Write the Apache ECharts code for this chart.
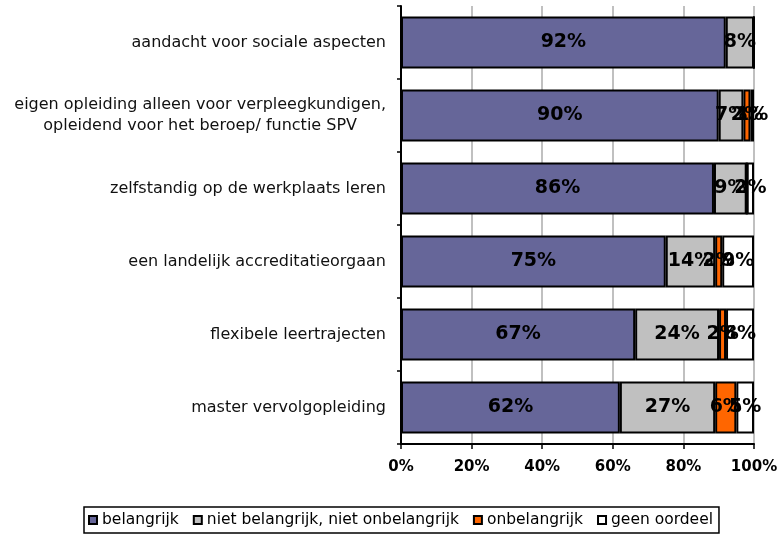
<!DOCTYPE html>
<html>
<head>
<meta charset="utf-8">
<script src="https://cdn.jsdelivr.net/npm/echarts@6/dist/echarts.min.js"></script>
<style>
  html, body { margin: 0; padding: 0; background: #fff; }
  #chart { width: 782px; height: 538px; }
</style>
</head>
<body>
<div id="chart"></div>
<script>
// categories, top to bottom
const categories = [
  "aandacht voor sociale aspecten",
  "eigen opleiding alleen voor verpleegkundigen,\nopleidend voor het beroep/ functie SPV",
  "zelfstandig op de werkplaats leren",
  "een landelijk accreditatieorgaan",
  "flexibele leertrajecten",
  "master vervolgopleiding",
];
const seriesNames = ["belangrijk", "niet belangrijk, niet onbelangrijk", "onbelangrijk", "geen oordeel"];
// percentages as printed in the chart
const belangrijk = [92, 90, 86, 75, 67, 62];
const neutraal = [8, 7, 9, 14, 24, 27];
const onbelangrijk = [0, 2, 0, 2, 2, 6];
const geenOordeel = [0, 1, 2, 9, 8, 5];
const xTicks = ["0%", "20%", "40%", "60%", "80%", "100%"];
const colors = ["#666699", "#C0C0C0", "#FF6600", "#FFFFFF"];

const rawSeries = [belangrijk, neutraal, onbelangrijk, geenOordeel];
// each bar is drawn as a 100% stack
const totals = categories.map((c, i) => rawSeries.reduce((s, arr) => s + arr[i], 0));

const myChart = echarts.init(document.getElementById("chart"));
const option = {
  animation: false,
  textStyle: { fontFamily: "DejaVu Sans" },
  grid: { top: 6, bottom: 94, left: 401, right: 28 },
  legend: {
    bottom: 5,
    left: 84,
    data: seriesNames,
    icon: "rect",
    itemWidth: 8,
    itemHeight: 8,
    itemGap: 14,
    padding: [5, 6, 5, 4],
    borderColor: "#000",
    borderWidth: 1.5,
    textStyle: { color: "#000", fontSize: 15.5, padding: [0, 0, 0, 0] },
  },
  xAxis: {
    type: "value",
    min: 0,
    max: 100,
    interval: 20,
    axisLine: { show: true, lineStyle: { color: "#000", width: 2 } },
    axisTick: { show: true, length: 5, lineStyle: { color: "#000", width: 1.5 } },
    axisLabel: {
      color: "#000",
      fontSize: 15,
      fontWeight: "bold",
      margin: 16,
      formatter: (v) => xTicks[v / 20],
    },
    splitLine: { show: true, lineStyle: { color: "#C0C0C0", width: 2 } },
  },
  yAxis: {
    type: "category",
    data: categories,
    inverse: true,
    axisLine: { show: true, lineStyle: { color: "#000", width: 2 } },
    axisTick: { show: true, length: 4, lineStyle: { color: "#000", width: 1.5 } },
    axisLabel: {
      color: "#111",
      fontSize: 16,
      margin: 15,
      lineHeight: 21,
      formatter: (v) => v.split("\n").map((l) => "{c|" + l + "}").join("\n"),
      rich: { c: { align: "center", fontSize: 16, color: "#111", lineHeight: 21 } },
    },
  },
  series: rawSeries.map((arr, k) => ({
    name: seriesNames[k],
    type: "bar",
    stack: "total",
    barWidth: 52,
    itemStyle: { color: colors[k], borderColor: "#000", borderWidth: 2 },
    label: {
      show: true,
      position: "inside",
      color: "#000",
      fontSize: 19,
      fontWeight: "bold",
      formatter: (p) => (arr[p.dataIndex] > 0 ? arr[p.dataIndex] + "%" : ""),
    },
    data: arr.map((v, i) => (v / totals[i]) * 100),
  })),
};

myChart.setOption(option);
window.addEventListener("resize", handleResize);
function handleResize() {
  myChart && myChart.resize();
}
</script>
</body>
</html>
